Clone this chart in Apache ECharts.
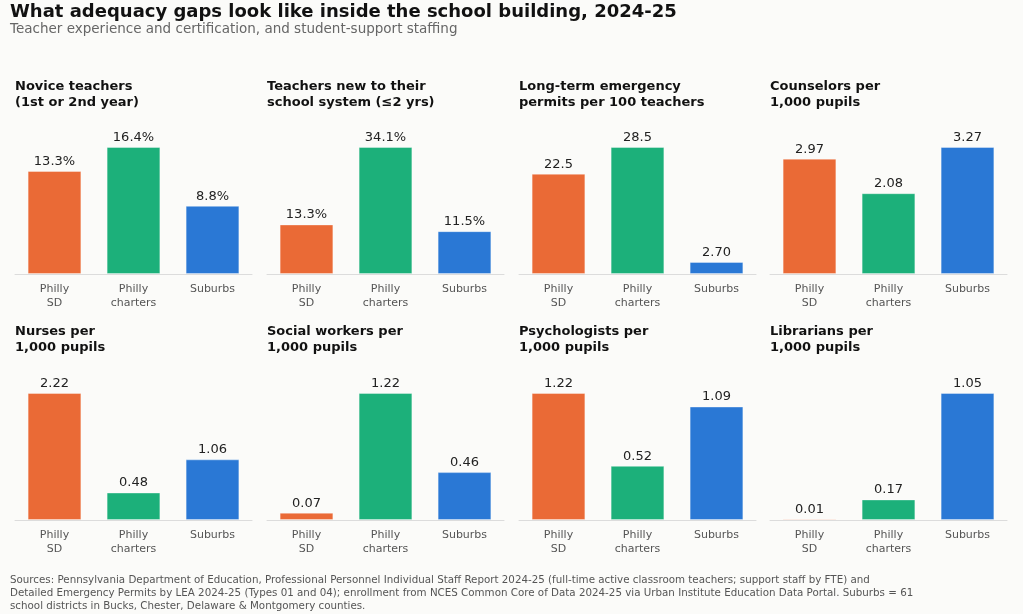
<!DOCTYPE html>
<html>
<head>
<meta charset="utf-8">
<script src="https://cdn.jsdelivr.net/npm/echarts@6/dist/echarts.min.js"></script>
<style>
  html, body { margin: 0; padding: 0; background: #fbfbf9; }
  #main { width: 1023px; height: 614px; }
</style>
</head>
<body>
<div id="main"></div>
<script>
// categories shared by every panel
var groups = ['Philly\nSD', 'Philly\ncharters', 'Suburbs'];
var groupColors = ['#ea6a36', '#1cb07a', '#2a78d5'];

// panel titles
var panelTitles = [
    'Novice teachers\n(1st or 2nd year)',
    'Teachers new to their\nschool system (≤2 yrs)',
    'Long-term emergency\npermits per 100 teachers',
    'Counselors per\n1,000 pupils',
    'Nurses per\n1,000 pupils',
    'Social workers per\n1,000 pupils',
    'Psychologists per\n1,000 pupils',
    'Librarians per\n1,000 pupils'
];

// values per panel (Philly SD, Philly charters, Suburbs)
var noviceTeachers = [13.3, 16.4, 8.8];
var newToSystem = [13.3, 34.1, 11.5];
var emergencyPermits = [22.5, 28.5, 2.70];
var counselors = [2.97, 2.08, 3.27];
var nurses = [2.22, 0.48, 1.06];
var socialWorkers = [0.07, 1.22, 0.46];
var psychologists = [1.22, 0.52, 1.09];
var librarians = [0.01, 0.17, 1.05];

var panelValues = [noviceTeachers, newToSystem, emergencyPermits, counselors,
                   nurses, socialWorkers, psychologists, librarians];
// label formats: pct = one decimal + %, sig3 = 3 significant digits, dec2 = two decimals
var panelFormats = ['pct', 'pct', 'sig3', 'dec2', 'dec2', 'dec2', 'dec2', 'dec2'];

function fmt(v, kind) {
    if (kind === 'pct') return v.toFixed(1) + '%';
    if (kind === 'sig3') return v.toPrecision(3);
    return v.toFixed(2);
}

var FONT = 'DejaVu Sans';
var colLeft = [15, 267, 519, 770];
var panelW = 237;
var rowTop = [147, 393];
var plotH = 127;
var titleTop = [79, 324];

var titles = [
    { text: 'What adequacy gaps look like inside the school building, 2024-25', left: 10, top: 3, padding: 0,
      textStyle: { fontFamily: FONT, fontSize: 18, fontWeight: 'bold', color: '#111' } },
    { text: 'Teacher experience and certification, and student-support staffing', left: 10, top: 22, padding: 0,
      textStyle: { fontFamily: FONT, fontSize: 13.5, fontWeight: 'normal', color: '#666' } },
    { text: 'Sources: Pennsylvania Department of Education, Professional Personnel Individual Staff Report 2024-25 (full-time active classroom teachers; support staff by FTE) and\nDetailed Emergency Permits by LEA 2024-25 (Types 01 and 04); enrollment from NCES Common Core of Data 2024-25 via Urban Institute Education Data Portal. Suburbs = 61\nschool districts in Bucks, Chester, Delaware & Montgomery counties.',
      left: 10, top: 574, padding: 0,
      textStyle: { fontFamily: FONT, fontSize: 10.3, fontWeight: 'normal', color: '#555', lineHeight: 12.8 } }
];
var grids = [], xAxes = [], yAxes = [], series = [];

panelValues.forEach(function (vals, i) {
    var r = Math.floor(i / 4), c = i % 4;
    titles.push({
        text: panelTitles[i], left: colLeft[c], top: titleTop[r], padding: 0,
        textStyle: { fontFamily: FONT, fontSize: 13, fontWeight: 'bold', color: '#111', lineHeight: 16 }
    });
    grids.push({ left: colLeft[c], top: rowTop[r], width: panelW, height: plotH });
    xAxes.push({
        type: 'category', gridIndex: i, data: groups,
        axisLine: { lineStyle: { color: '#dcdcdc', width: 1 } },
        axisTick: { alignWithLabel: true, length: 4, lineStyle: { color: '#777' } },
        axisLabel: { fontFamily: FONT, fontSize: 11, color: '#555', margin: 8, lineHeight: 14 }
    });
    yAxes.push({ type: 'value', gridIndex: i, min: 0, max: Math.max.apply(null, vals), show: false });
    var kind = panelFormats[i];
    series.push({
        type: 'bar', xAxisIndex: i, yAxisIndex: i, barWidth: '68%',
        data: vals.map(function (v, k) {
            return { value: v, itemStyle: { color: groupColors[k] } };
        }),
        itemStyle: { borderColor: 'rgba(255,255,255,0.35)', borderWidth: 1 },
        label: {
            show: true, position: 'top', distance: 3,
            fontFamily: FONT, fontSize: 13, color: '#222',
            formatter: function (p) { return fmt(p.value, kind); }
        },
        silent: true
    });
});

var myChart = echarts.init(document.getElementById('main'));
myChart.setOption({
    backgroundColor: '#fbfbf9',
    animation: false,
    title: titles,
    grid: grids,
    xAxis: xAxes,
    yAxis: yAxes,
    series: series
});
</script>
</body>
</html>
